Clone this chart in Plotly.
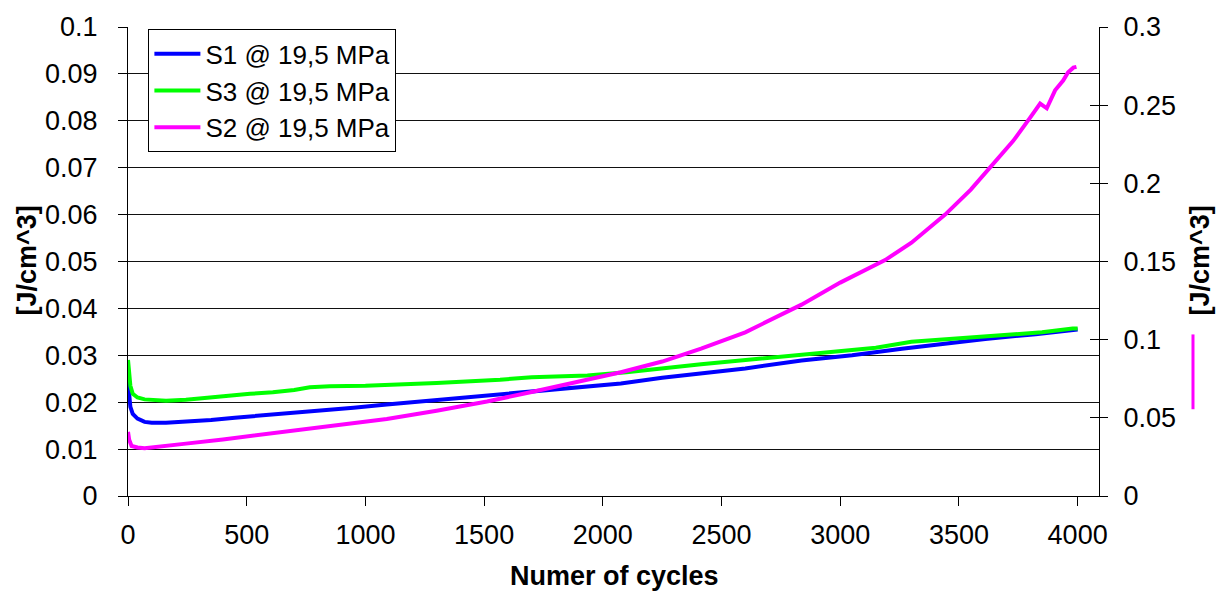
import plotly.graph_objects as go

# Energy density per cycle, three specimens at 19,5 MPa
s1_cycles = [0, 5, 10, 20, 40, 70, 100, 160, 250, 350, 450, 550, 667, 800, 950,
             1090, 1250, 1400, 1512, 1700, 1935, 2076, 2250, 2414, 2600, 2837,
             3050, 3260, 3450, 3611, 3823, 4000]
s1_values = [0.0244, 0.0215, 0.0190, 0.0175, 0.0165, 0.0158, 0.0156, 0.0156,
             0.0158, 0.0162, 0.0167, 0.0171, 0.0176, 0.0181, 0.0188, 0.0195,
             0.0202, 0.0209, 0.0214, 0.0223, 0.0233, 0.0240, 0.0252, 0.0262,
             0.0272, 0.0289, 0.0300, 0.0314, 0.0325, 0.0335, 0.0345, 0.0355]

s3_cycles = [0, 5, 10, 20, 40, 70, 103, 160, 244, 303, 400, 514, 610, 700, 766,
             850, 1000, 1146, 1300, 1567, 1700, 1935, 2100, 2414, 2600, 2837,
             3050, 3150, 3300, 3450, 3683, 3850, 3979, 4000]
s3_values = [0.0290, 0.0260, 0.0235, 0.0218, 0.0210, 0.0206, 0.0205, 0.0203,
             0.0205, 0.0208, 0.0212, 0.0218, 0.0221, 0.0226, 0.0232, 0.0234,
             0.0235, 0.0237, 0.0241, 0.0248, 0.0253, 0.0257, 0.0264, 0.0281,
             0.0290, 0.0302, 0.0312, 0.0316, 0.0329, 0.0334, 0.0342, 0.0349,
             0.0357, 0.0357]

# S2 is read against the secondary (right) axis
s2_cycles = [0, 5, 15, 40, 70, 120, 244, 400, 550, 667, 800, 950, 1090, 1300,
             1512, 1700, 1935, 2076, 2250, 2414, 2600, 2837, 3000, 3189, 3300,
             3442, 3550, 3631, 3683, 3728, 3800, 3842, 3870, 3905, 3939, 3960,
             3982, 3995]
s2_values = [0.0410, 0.0360, 0.0320, 0.0310, 0.0305, 0.0312, 0.0335, 0.0362,
             0.0390, 0.0410, 0.0432, 0.0462, 0.0492, 0.0545, 0.0604, 0.0665,
             0.0745, 0.0792, 0.0860, 0.0942, 0.1047, 0.1224, 0.1365, 0.1509,
             0.1620, 0.1800, 0.1960, 0.2100, 0.2190, 0.2270, 0.2420, 0.2510,
             0.2480, 0.2595, 0.2657, 0.2710, 0.2740, 0.2745]

series_names = ["S1 @ 19,5 MPa", "S3 @ 19,5 MPa", "S2 @ 19,5 MPa"]
series_colors = ["#0000ff", "#00ff00", "#ff00ff"]

left_ticks = [0, 0.01, 0.02, 0.03, 0.04, 0.05, 0.06, 0.07, 0.08, 0.09, 0.1]
left_labels = ["0", "0.01", "0.02", "0.03", "0.04", "0.05", "0.06", "0.07",
               "0.08", "0.09", "0.1"]
right_ticks = [0, 0.05, 0.1, 0.15, 0.2, 0.25, 0.3]
right_labels = ["0", "0.05", "0.1", "0.15", "0.2", "0.25", "0.3"]
x_ticks = [0, 500, 1000, 1500, 2000, 2500, 3000, 3500, 4000]

FONT = "Liberation Sans, Arial, sans-serif"
FS = 27

fig = go.Figure()
fig.add_trace(go.Scatter(x=s1_cycles, y=s1_values, name=series_names[0],
                         mode="lines", line=dict(color=series_colors[0], width=4),
                         legendgroup="a", yaxis="y"))
fig.add_trace(go.Scatter(x=s3_cycles, y=s3_values, name=series_names[1],
                         mode="lines", line=dict(color=series_colors[1], width=4),
                         legendgroup="b", yaxis="y"))
fig.add_trace(go.Scatter(x=s2_cycles, y=s2_values, name=series_names[2],
                         mode="lines", line=dict(color=series_colors[2], width=4),
                         legendgroup="c", yaxis="y2"))
# empty carrier so the inner tick marks of the right axis get drawn
fig.add_trace(go.Scatter(x=[], y=[], yaxis="y3", showlegend=False,
                         hoverinfo="skip"))

fig.update_layout(
    width=1224, height=594,
    margin=dict(l=128, r=125, t=20, b=98),
    paper_bgcolor="white", plot_bgcolor="white",
    font=dict(family=FONT, size=FS, color="black"),
    showlegend=True,
    legend=dict(x=0.021, y=0.995, xanchor="left", yanchor="top",
                bgcolor="white", bordercolor="black", borderwidth=1,
                font=dict(family=FONT, size=26, color="black"),
                tracegroupgap=10, traceorder="normal", itemwidth=46),
    xaxis=dict(range=[0, 4090], tickvals=x_ticks, ticks="outside", ticklen=9,
               tickcolor="black", showline=True, linecolor="black", linewidth=1,
               showgrid=False, zeroline=False, ticklabelstandoff=6,
               tickfont=dict(family=FONT, size=FS)),
    yaxis=dict(range=[0, 0.1], tickvals=left_ticks, ticktext=left_labels,
               ticks="outside", ticklen=9, tickcolor="black",
               showline=True, linecolor="black", linewidth=1,
               showgrid=True, gridcolor="#111111", gridwidth=1,
               zeroline=False, ticklabelstandoff=15,
               tickfont=dict(family=FONT, size=FS)),
    yaxis2=dict(range=[0, 0.3], tickvals=right_ticks, ticktext=right_labels,
                overlaying="y", side="right", anchor="x",
                ticks="outside", ticklen=8, tickcolor="black",
                showline=True, linecolor="black", linewidth=1,
                showgrid=False, zeroline=False, ticklabelstandoff=10,
                tickfont=dict(family=FONT, size=FS)),
    yaxis3=dict(range=[0, 0.3], tickvals=right_ticks, overlaying="y",
                side="right", anchor="x", ticks="inside", ticklen=9,
                tickcolor="black", showticklabels=False, showline=False,
                showgrid=False, zeroline=False),
    annotations=[
        dict(text="<b>[J/cm^3]</b>", xref="paper", yref="paper",
             x=-0.104, y=0.502, xanchor="center", yanchor="middle",
             textangle=-90, showarrow=False,
             font=dict(family=FONT, size=FS, color="black")),
        dict(text="<b>[J/cm^3]</b>", xref="paper", yref="paper",
             x=1.104, y=0.502, xanchor="center", yanchor="middle",
             textangle=-90, showarrow=False,
             font=dict(family=FONT, size=FS, color="black")),
        dict(text="<b>Numer of cycles</b>", xref="paper", yref="paper",
             x=0.5015, y=-0.170, xanchor="center", yanchor="middle",
             showarrow=False,
             font=dict(family=FONT, size=FS, color="black")),
    ],
    shapes=[
        # series key next to the right-axis title
        dict(type="line", xref="paper", yref="paper",
             x0=1.0968, x1=1.0968, y0=0.185, y1=0.3445,
             line=dict(color=series_colors[2], width=3)),
    ],
)

fig.write_html("out.html")
